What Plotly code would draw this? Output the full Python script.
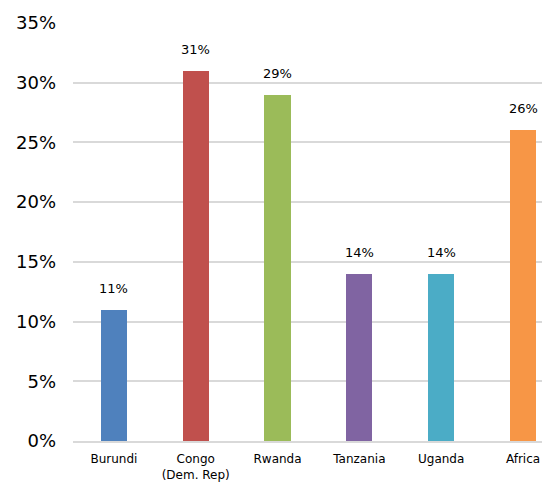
import plotly.graph_objects as go

categories = ["Burundi", "Congo<br>(Dem. Rep)", "Rwanda", "Tanzania", "Uganda", "Africa"]
values = [11, 31, 29, 14, 14, 26]
colors = ["#4F81BD", "#C0504D", "#9BBB59", "#8064A2", "#4BACC6", "#F79646"]
ytick_vals = [0, 5, 10, 15, 20, 25, 30, 35]
ytick_text = ["0%", "5%", "10%", "15%", "20%", "25%", "30%", "35%"]

font_family = "'DejaVu Sans', sans-serif"

fig = go.Figure()
fig.add_trace(go.Bar(
    x=list(range(len(categories))),
    y=values,
    marker=dict(color=colors, line=dict(width=0)),
    width=0.32,
    hoverinfo="skip",
))

for i, v in enumerate(values):
    fig.add_annotation(
        x=i, y=v, text=f"{v}%", showarrow=False,
        yanchor="bottom", yshift=12,
        font=dict(family=font_family, size=13, color="#000000"),
    )

fig.update_layout(
    width=542, height=474,
    margin=dict(l=65, r=0, t=15, b=41),
    plot_bgcolor="white", paper_bgcolor="white",
    showlegend=False,
    font=dict(family=font_family, color="#000000"),
    xaxis=dict(
        tickmode="array",
        tickvals=list(range(len(categories))),
        ticktext=categories,
        range=[-0.5, 5.33],
        automargin=False,
        showgrid=False,
        showline=True, linecolor="#D9D9D9", linewidth=2,
        ticks="", ticklabelstandoff=6,
        tickfont=dict(size=12, family=font_family, color="#000000"),
        zeroline=False,
    ),
    yaxis=dict(
        range=[0, 35],
        automargin=False,
        tickmode="array",
        tickvals=ytick_vals,
        ticktext=ytick_text,
        showgrid=True, gridcolor="#D9D9D9", gridwidth=1.5,
        zeroline=False, showline=False,
        ticks="", ticklabelstandoff=16,
        tickfont=dict(size=18, family=font_family, color="#000000"),
    ),
    bargap=0,
)

fig.write_html("out.html")
